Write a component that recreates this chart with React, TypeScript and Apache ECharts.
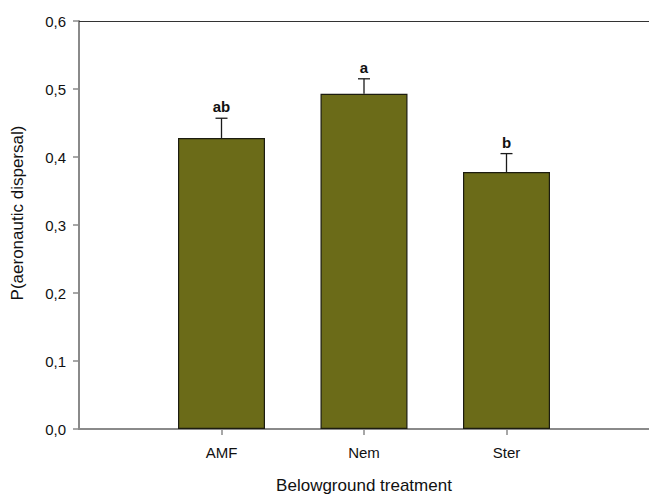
import React, { useEffect, useRef } from 'react';
import * as echarts from 'echarts';

// Treatments, their x positions on the axis, means, standard errors and group letters
const categories = ['AMF', 'Nem', 'Ster'];
const positions = [1, 2, 3];
const means = [0.428, 0.493, 0.378];
const errors = [0.029, 0.022, 0.027];
const letters = ['ab', 'a', 'b'];

const FONT = '"Liberation Sans", Arial, sans-serif';
const AXIS_GRAY = '#8a8a8a';

export default function App() {
  const ref = useRef<HTMLDivElement>(null);

  useEffect(() => {
    if (!ref.current) return;
    const chart = echarts.init(ref.current, undefined, { renderer: 'svg' });

    const labelFor = (v: number) => {
      const i = positions.indexOf(Math.round(v));
      return i >= 0 ? categories[i] : '';
    };

    chart.setOption({
      animation: false,
      backgroundColor: '#ffffff',
      textStyle: { fontFamily: FONT },
      grid: { left: 79, top: 21, right: -2, bottom: 66, containLabel: false },
      xAxis: [
        {
          type: 'value',
          min: 0,
          max: 4,
          interval: 1,
          position: 'bottom',
          name: 'Belowground treatment',
          nameLocation: 'middle',
          nameGap: 48,
          nameTextStyle: { fontSize: 17, color: '#111', fontFamily: FONT },
          axisLine: { show: true, lineStyle: { color: AXIS_GRAY, width: 2 } },
          axisTick: {
            show: true,
            inside: false,
            length: 6,
            customValues: positions,
            lineStyle: { color: AXIS_GRAY, width: 1.5 },
          },
          axisLabel: {
            customValues: positions,
            formatter: (v: number) => labelFor(v),
            margin: 16,
            fontSize: 15,
            color: '#111',
            fontFamily: FONT,
          },
          splitLine: { show: false },
        },
        {
          type: 'value',
          min: 0,
          max: 4,
          position: 'top',
          axisLine: { show: true, lineStyle: { color: '#333', width: 1.2 } },
          axisTick: { show: false },
          axisLabel: { show: false },
          splitLine: { show: false },
        },
      ],
      yAxis: {
        type: 'value',
        min: 0,
        max: 0.6,
        interval: 0.1,
        name: 'P(aeronautic dispersal)',
        nameLocation: 'middle',
        nameGap: 53,
        nameTextStyle: { fontSize: 17, color: '#111', fontFamily: FONT, padding: [0, 0, 0, 24] },
        axisLine: { show: true, lineStyle: { color: AXIS_GRAY, width: 2 } },
        axisTick: { show: true, inside: false, length: 6, lineStyle: { color: AXIS_GRAY, width: 1.5 } },
        axisLabel: {
          formatter: (v: number) => v.toFixed(1).replace('.', ','),
          margin: 13,
          fontSize: 15,
          color: '#111',
          fontFamily: FONT,
        },
        splitLine: { show: false },
      },
      series: [
        {
          type: 'bar',
          xAxisIndex: 0,
          barWidth: 87,
          data: positions.map((p, i) => [p, means[i]]),
          itemStyle: { color: '#6b6b18', borderColor: '#1c1c10', borderWidth: 1.2 },
          z: 2,
        },
        {
          type: 'custom',
          xAxisIndex: 0,
          z: 3,
          data: positions.map((p, i) => [p, means[i], errors[i]]),
          renderItem: (params: any, api: any) => {
            const x = api.value(0);
            const m = api.value(1);
            const e = api.value(2);
            const base = api.coord([x, m]);
            const top = api.coord([x, m + e]);
            const half = 6;
            const stroke = { stroke: '#1a1a1a', lineWidth: 1.3 };
            return {
              type: 'group',
              children: [
                { type: 'line', shape: { x1: base[0], y1: base[1], x2: top[0], y2: top[1] }, style: stroke },
                { type: 'line', shape: { x1: top[0] - half, y1: top[1], x2: top[0] + half, y2: top[1] }, style: stroke },
                {
                  type: 'text',
                  x: top[0],
                  y: top[1] - 4,
                  style: {
                    text: letters[params.dataIndex],
                    align: 'center',
                    verticalAlign: 'bottom',
                    fontSize: 15,
                    fontWeight: 'bold',
                    fontFamily: FONT,
                    fill: '#111',
                  },
                },
              ],
            };
          },
        },
      ],
    });

    return () => chart.dispose();
  }, []);

  return (
    <div
      ref={ref}
      style={{ position: 'absolute', left: 0, top: 0, width: 649, height: 499, background: '#fff' }}
    />
  );
}
